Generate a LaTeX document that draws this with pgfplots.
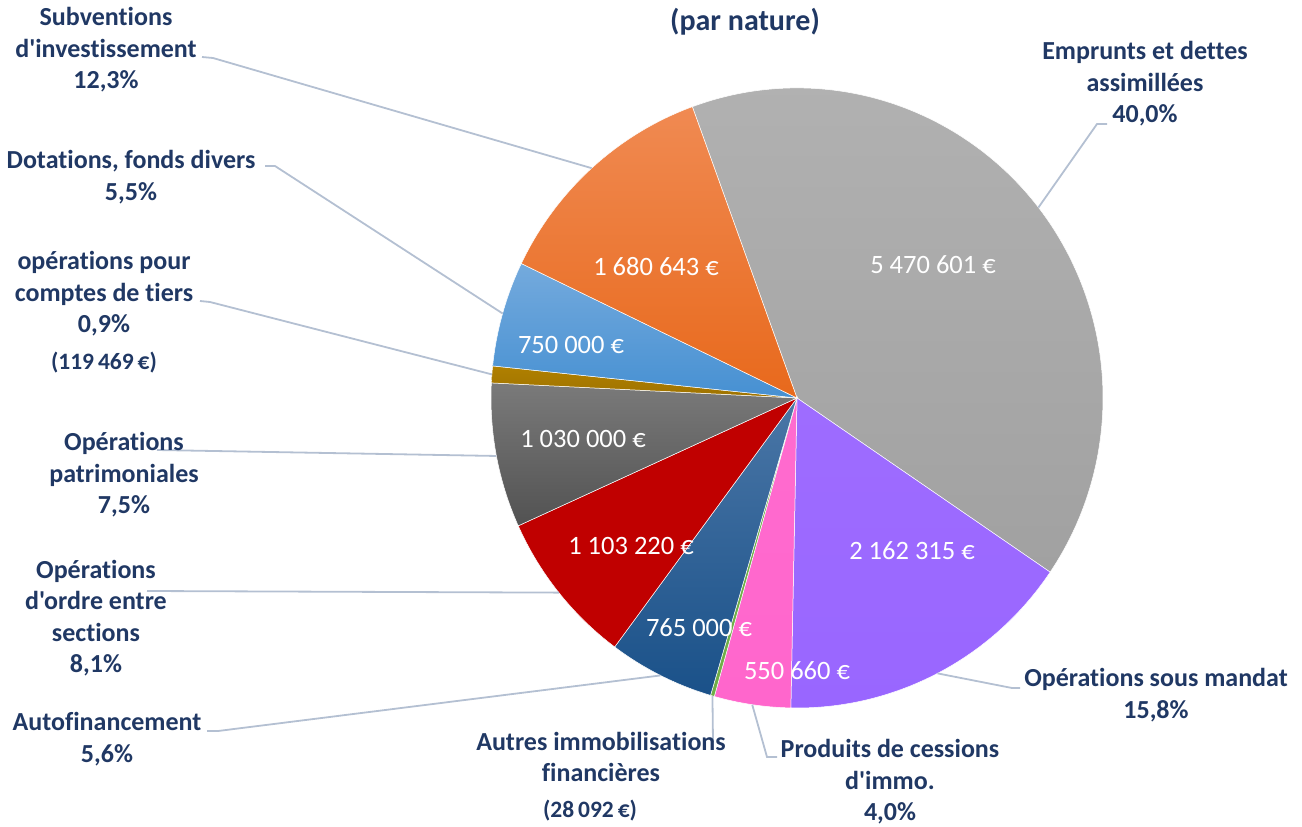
\documentclass[border=0pt]{standalone}
\usepackage{fontspec}
\setmainfont{Carlito}[Ligatures={TeXOff,CommonOff}]
\usepackage{pgfplots}
\usepackage{pgfplotstable}
\pgfplotsset{compat=1.18}

\definecolor{navy}{HTML}{203864}
\definecolor{leader}{HTML}{B4C0D2}
% slice colours (top / bottom of gradient)
\definecolor{t0}{HTML}{B2B2B2}\definecolor{b0}{HTML}{A1A1A1}
\definecolor{t1}{HTML}{9E6CFF}\definecolor{b1}{HTML}{9966FF}
\definecolor{t2}{HTML}{FF6BCF}\definecolor{b2}{HTML}{FF66CC}
\definecolor{t3}{HTML}{70AD47}\definecolor{b3}{HTML}{70AD47}
\definecolor{t4}{HTML}{4A76A6}\definecolor{b4}{HTML}{1A5189}
\definecolor{t5}{HTML}{C00000}\definecolor{b5}{HTML}{C00000}
\definecolor{t6}{HTML}{7A7A7A}\definecolor{b6}{HTML}{525252}
\definecolor{t7}{HTML}{B08000}\definecolor{b7}{HTML}{9E7200}
\definecolor{t8}{HTML}{74AADD}\definecolor{b8}{HTML}{4690D2}
\definecolor{t9}{HTML}{F08A52}\definecolor{b9}{HTML}{E8691C}

\pgfplotstableread[col sep=comma]{
slice,value
Emprunts,5470601
Mandat,2162315
Cessions,550660
AutresImmo,28092
Autofinancement,765000
Ordre,1103220
Patrimoniales,1030000
Tiers,119469
Dotations,750000
Subventions,1680643
}\piedata

\def\pietotal{0}
\pgfplotsforeachungrouped \i in {0,...,9}{%
  \pgfplotstablegetelem{\i}{value}\of\piedata
  \xdef\pietotal{\fpeval{\pietotal+\pgfplotsretval}}%
}
\def\piecum{0}
\def\piestart{110}
\pgfplotsforeachungrouped \i in {0,...,9}{%
  \pgfplotstablegetelem{\i}{value}\of\piedata
  \expandafter\xdef\csname pieS\i\endcsname{\fpeval{\piestart-360*\piecum/\pietotal}}%
  \expandafter\xdef\csname pieM\i\endcsname{\fpeval{\piestart-360*(\piecum+\pgfplotsretval/2)/\pietotal}}%
  \xdef\piecum{\fpeval{\piecum+\pgfplotsretval}}%
  \expandafter\xdef\csname pieE\i\endcsname{\fpeval{\piestart-360*\piecum/\pietotal}}%
}

\tikzset{
  lab/.style={font=\fontsize{26}{31.5}\selectfont\bfseries, text=navy, align=center, inner sep=0pt},
  par/.style={font=\fontsize{23.5}{28}\selectfont\bfseries, text=navy, align=center, inner sep=0pt},
  val/.style={font=\fontsize{26.5}{31}\selectfont, text=white, inner sep=0pt},
  lead/.style={draw=leader, line width=1.8pt},
}

\begin{document}
\begin{tikzpicture}
\begin{axis}[scale only axis, width=1302pt, height=827pt,
  xmin=0, xmax=1302, ymin=0, ymax=827, y dir=reverse,
  hide axis, clip=false]
\path (axis cs:0,0) rectangle (axis cs:1302,827);
\pgfplotsinvokeforeach{0,...,9}{%
  \shadedraw[top color=t#1, bottom color=b#1, draw=white, line width=0.5pt]
    (axis cs:797,398) -- ++(\csname pieS#1\endcsname:306pt and 310pt)
    arc[start angle=\csname pieS#1\endcsname, end angle=\csname pieE#1\endcsname, x radius=306pt, y radius=310pt] -- cycle;
  \path (axis cs:797,398) ++(\csname pieM#1\endcsname:306pt and 310pt) coordinate (m#1);
}
% leader lines
\draw[lead] (axis cs:1107,124) -- (axis cs:1097,124) -- (m0);
\draw[lead] (axis cs:1020,688) -- (axis cs:1012,688) -- (m1);
\draw[lead] (axis cs:777,757) -- (axis cs:767,757) -- (m2);
\draw[lead] (axis cs:713,742) -- (m3);
\draw[lead] (axis cs:207,731) -- (axis cs:218,731) -- (m4);
\draw[lead] (axis cs:147,591) -- (m5);
\draw[lead] (axis cs:157,450) -- (m6);
\draw[lead] (axis cs:200,301) -- (axis cs:210,302) -- (m7);
\draw[lead] (axis cs:265,166) -- (axis cs:275,166) -- (m8);
\draw[lead] (axis cs:202,57) -- (axis cs:213,58) -- (m9);
% value labels
\node[val] at (axis cs:933,265) {5 470 601 €};
\node[val] at (axis cs:912,551) {2 162 315 €};
\node[val] at (axis cs:797,671) {550 660 €};
\node[val] at (axis cs:699,628) {765 000 €};
\node[val] at (axis cs:631,546) {1 103 220 €};
\node[val] at (axis cs:583,439) {1 030 000 €};
\node[val] at (axis cs:571,345) {750 000 €};
\node[val] at (axis cs:656,267) {1 680 643 €};
% category labels
\node[font=\fontsize{30}{36}\selectfont\bfseries, text=navy, inner sep=0pt] at (axis cs:745,22) {(par nature)};
\node[lab] at (axis cs:1145,84) {Emprunts et dettes\\assimillées\\40,0\%};
\node[lab] at (axis cs:1156,695) {Opérations sous mandat\\15,8\%};
\node[lab] at (axis cs:890,782) {Produits de cessions\\d'immo.\\4,0\%};
\node[lab] at (axis cs:601,757) {Autres immobilisations\\financières};
\node[par] at (axis cs:590,811) {(28\,092\,€)};
\node[lab] at (axis cs:107,739) {Autofinancement\\5,6\%};
\node[lab] at (axis cs:96,618) {Opérations\\d'ordre entre\\sections\\8,1\%};
\node[lab] at (axis cs:124,475) {Opérations\\patrimoniales\\7,5\%};
\node[lab] at (axis cs:104,294) {opérations pour\\comptes de tiers\\0,9\%};
\node[par] at (axis cs:104,363) {(119\,469\,€)};
\node[lab] at (axis cs:131,177) {Dotations, fonds divers\\5,5\%};
\node[lab] at (axis cs:106,50) {Subventions\\d'investissement\\12,3\%};
\end{axis}
\pgfresetboundingbox
\path (current axis.south west) rectangle (current axis.north east);
\end{tikzpicture}
\end{document}
